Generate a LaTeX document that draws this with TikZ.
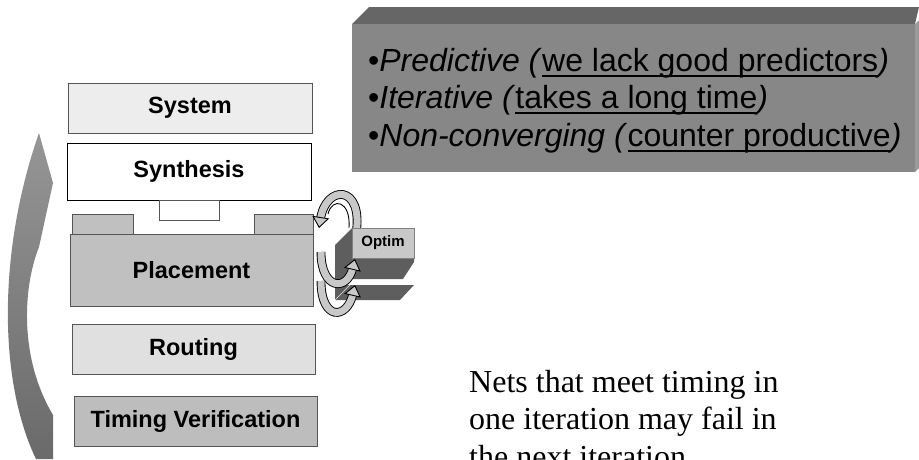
\documentclass[tikz,border=0pt]{standalone}
\usepackage{fontspec}
\setmainfont{Liberation Serif}
\setsansfont{Liberation Sans}
\usetikzlibrary{arrows.meta}
\definecolor{sysfill}{HTML}{EDEDED}
\definecolor{midfill}{HTML}{C0C0C0}
\definecolor{routfill}{HTML}{E0E0E0}
\definecolor{timfill}{HTML}{BDBDBD}
\definecolor{edgegray}{HTML}{555555}
\definecolor{ribfill}{HTML}{C8C8C8}
\definecolor{optdark}{HTML}{5E5E5E}
\definecolor{optfront}{HTML}{C8C8C8}
\definecolor{notefront}{HTML}{878787}
\definecolor{notetop}{HTML}{666666}
\definecolor{noteside}{HTML}{9A9A9A}
\definecolor{arrtop}{HTML}{969696}
\definecolor{arrbot}{HTML}{6A6A6A}
\newcommand\myul[1]{\setbox0=\hbox{#1}\rlap{\rule[-6pt]{\wd0}{2pt}}\box0}
\tikzset{
  stage/.style={draw=edgegray, line width=1pt, inner sep=0pt,
    font=\sffamily\bfseries\fontsize{23.5}{28}\selectfont},
  plain/.style={draw=edgegray, line width=1pt, inner sep=0pt},
  ribbody/.style={line width=0.9pt, draw=black, double=ribfill, double distance=7pt, shorten >=9pt},
  ribtip/.style={line width=0.9pt, draw=ribfill,
    -{Triangle[length=11pt,width=17pt,color=black,fill=ribfill,line width=0.9pt]}},
  notetext/.style={anchor=base west, inner sep=0pt,
    font=\sffamily\fontsize{32}{37}\selectfont},
  bodytext/.style={anchor=base west, inner sep=0pt,
    font=\rmfamily\fontsize{32}{37.5}\selectfont},
}
\newcommand\ribarrow[1]{\draw[ribbody] #1; \draw[ribtip] #1;}
\begin{document}
\begin{tikzpicture}[x=1pt,y=-1pt]
\useasboundingbox (0,0) rectangle (919,459);

% stage boxes
\node[stage, fill=sysfill, minimum width=244pt, minimum height=50pt] (sys) at (190,108) {System};
\node[stage, draw=black, fill=white, minimum width=244pt, minimum height=57pt] (syn) at (189,171.5) {Synthesis};
\node[plain, fill=white, minimum width=60pt, minimum height=20pt] (pin) at (189,210) {};
\node[plain, fill=midfill, minimum width=61pt, minimum height=20pt] (tabl) at (102.5,224) {};
\node[plain, fill=midfill, minimum width=59pt, minimum height=20pt] (tabr) at (283.5,224) {};
\node[stage, fill=midfill, minimum width=243pt, minimum height=72pt] (plc) at (191.5,270) {Placement};
\node[stage, fill=routfill, minimum width=243pt, minimum height=50pt] (rout) at (193.5,349) {Routing};
\node[stage, fill=timfill, minimum width=243pt, minimum height=50pt] (tim) at (195.5,421) {Timing Verification};

% upper ribbon arrow (behind Optim)
\ribarrow{(356,234) .. controls (364,184) and (326,184) .. (319,228)}
\draw[line width=0.9pt] (349,228) .. controls (351,200) and (332,197) .. (328,214);

% Optim block
\fill[optdark] (352,228) -- (335,245) -- (335,279) -- (403,279) -- (414,262) -- (414,258) -- (352,258) -- cycle;
\node[draw=gray, line width=0.6pt, fill=optfront, minimum width=62pt, minimum height=30pt, inner sep=0pt,
  font=\sffamily\bfseries\fontsize{15}{18}\selectfont] (opt) at (383,243) {Optim};
\fill[optdark] (335,285) -- (414,285) -- (400,300) -- (335,300) -- cycle;
\draw[white!80!gray, line width=0.6pt] (335,300) -- (350,285);

% lower ribbon arrows
\ribarrow{(321,252) .. controls (321,290) and (347,292) .. (355,259)}
\ribarrow{(321,281) .. controls (321,321) and (347,320) .. (355,285)}

% note box
\fill[notetop] (352,24) -- (369,7) -- (919,7) -- (915,24) -- cycle;
\fill[noteside] (915,24) -- (919,20) -- (919,168) -- (915,172) -- cycle;
\fill[notefront] (352,24) rectangle (915,172);
\node[notetext] (n1) at (368,71) {•\textit{Predictive (}\myul{we lack good predictors}\textit{)}};
\node[notetext] (n2) at (368,108) {•\textit{Iterative (}\myul{takes a long time}\textit{)}};
\node[notetext] (n3) at (368,146) {•\textit{Non-converging (}\myul{counter productive}\textit{)}};

% big feedback arrow on the left
\shade[top color=arrtop, bottom color=arrbot]
  (39,133) -- (53,183) -- (39,247)
  .. controls (22,290) and (20,360) .. (53,415)
  -- (53,459) -- (36,459)
  .. controls (-2,380) and (-2,250) .. (39,133) -- cycle;

% note text, cut at the bottom edge
\begin{scope}
\clip (0,0) rectangle (919,459);
\node[bodytext] (nets1) at (469,392) {Nets that meet timing in};
\node[bodytext] (nets2) at (469,429.5) {one iteration may fail in};
\node[bodytext] (nets3) at (469,467) {the next iteration};
\end{scope}
\end{tikzpicture}
\end{document}
